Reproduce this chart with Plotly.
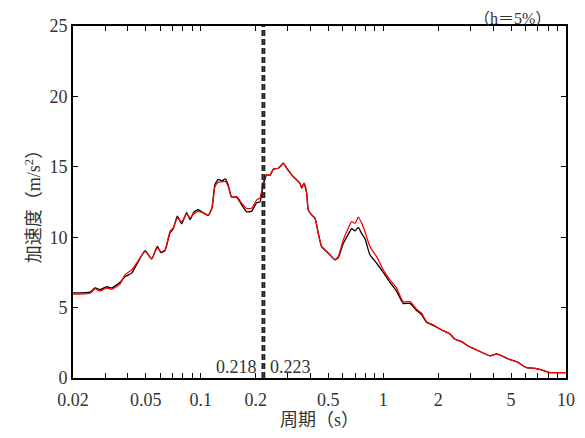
import math
import plotly.graph_objects as go

# Period (s)
period = [0.0200, 0.0248, 0.0264, 0.0281, 0.0306, 0.0326, 0.0362, 0.0385, 0.0419, 0.0446,
          0.0496, 0.0539, 0.0579, 0.0606, 0.0638, 0.0679, 0.0708, 0.0745, 0.0787, 0.0838,
          0.0874, 0.0919, 0.0970, 0.1029, 0.1101, 0.1153, 0.1197, 0.1248, 0.1308, 0.1367,
          0.1416, 0.1478, 0.1574, 0.1677, 0.1786, 0.1902, 0.2026, 0.2112, 0.2202, 0.2298,
          0.2396, 0.2498, 0.2660, 0.2752, 0.2832, 0.2956, 0.3148, 0.3354, 0.3496, 0.3572,
          0.3677, 0.3804, 0.3882, 0.4050, 0.4224, 0.4403, 0.4595, 0.4893, 0.5212, 0.5433,
          0.5664, 0.6034, 0.6426, 0.6708, 0.6992, 0.7290, 0.7610, 0.7932, 0.8446, 0.9192,
          0.9987, 1.087, 1.183, 1.285, 1.399, 1.521, 1.620, 1.726, 1.876, 2.086,
          2.315, 2.466, 2.684, 2.916, 3.105, 3.380, 3.832, 4.170, 4.443, 4.829,
          5.368, 6.085, 6.759, 7.354, 8.163, 8.80, 10.0]

# Red series acceleration (m/s^2)
accel_red = [5.95, 6.02, 6.33, 6.18, 6.38, 6.30, 6.68, 7.32, 7.68, 8.15,
             8.98, 8.49, 9.24, 8.98, 9.10, 10.40, 10.66, 11.35, 11.09, 11.66,
             11.37, 11.66, 11.83, 11.73, 11.55, 12.05, 13.58, 13.91, 13.93, 13.97,
             13.60, 12.83, 12.89, 12.42, 12.05, 12.06, 12.65, 12.77, 13.93, 14.43,
             14.39, 14.83, 14.90, 15.07, 15.26, 14.90, 14.43, 14.07, 13.84, 13.48,
             13.84, 13.13, 11.94, 11.58, 11.35, 10.28, 9.33, 8.98, 8.62, 8.39,
             8.62, 9.81, 10.64, 11.11, 10.98, 11.42, 11.00, 10.40, 9.33, 8.62,
             7.68, 6.97, 6.38, 5.42, 5.42, 4.88, 4.60, 4.00, 3.77, 3.41,
             3.13, 2.75, 2.58, 2.27, 2.10, 1.88, 1.58, 1.71, 1.58, 1.35,
             1.16, 0.73, 0.69, 0.57, 0.38, 0.38, 0.38]

# Black series acceleration (m/s^2)
accel_black = [6.05, 6.10, 6.40, 6.28, 6.48, 6.40, 6.80, 7.20, 7.45, 8.05,
               9.05, 8.45, 9.35, 8.90, 9.05, 10.30, 10.60, 11.50, 10.95, 11.75,
               11.25, 11.80, 11.95, 11.75, 11.55, 12.10, 13.75, 14.10, 14.00, 14.15,
               13.70, 12.85, 12.85, 12.30, 11.80, 11.85, 12.45, 12.50, 13.70, 14.43,
               14.39, 14.83, 14.90, 15.07, 15.26, 14.90, 14.43, 14.07, 13.84, 13.48,
               13.84, 13.13, 11.94, 11.58, 11.35, 10.28, 9.33, 8.98, 8.62, 8.39,
               8.55, 9.55, 10.20, 10.60, 10.45, 10.70, 10.25, 9.90, 8.75, 8.15,
               7.50, 6.80, 6.15, 5.30, 5.30, 4.80, 4.50, 3.95, 3.73, 3.41,
               3.13, 2.75, 2.58, 2.27, 2.10, 1.88, 1.58, 1.71, 1.58, 1.35,
               1.16, 0.73, 0.69, 0.57, 0.38, 0.38, 0.38]

marker_periods = [0.218, 0.223]
marker_labels = ["0.218", "0.223"]

major_ticks = {0.02: "0.02", 0.05: "0.05", 0.1: "0.1", 0.2: "0.2", 0.5: "0.5",
               1: "1", 2: "2", 5: "5", 10: "10"}
tick_vals = []
tick_text = []
for dec in [0.01, 0.1, 1]:
    for m in range(1, 10):
        v = round(m * dec, 4)
        if 0.02 <= v <= 10:
            tick_vals.append(v)
            tick_text.append(major_ticks.get(v, ""))
tick_vals.append(10)
tick_text.append("10")

FONT = "Liberation Serif, Noto Sans CJK SC, serif"
TXT = "#333333"

fig = go.Figure()
fig.add_trace(go.Scatter(x=period, y=accel_black, mode="lines",
                         line=dict(color="black", width=1.3, shape="spline", smoothing=0.5),
                         showlegend=False))
fig.add_trace(go.Scatter(x=period, y=accel_red, mode="lines",
                         line=dict(color="#ff0000", width=1.3, shape="spline", smoothing=0.5),
                         showlegend=False))

for p in marker_periods:
    fig.add_shape(type="line", x0=p, x1=p, y0=0, y1=25, xref="x", yref="y",
                  line=dict(color="#222222", width=2, dash="6px,3px"))

fig.add_annotation(x=math.log10(marker_periods[0]), y=0, xref="x", yref="y",
                   text=marker_labels[0], xanchor="right", yanchor="bottom",
                   xshift=-4, yshift=-1, showarrow=False,
                   font=dict(family=FONT, size=18, color=TXT))
fig.add_annotation(x=math.log10(marker_periods[1]), y=0, xref="x", yref="y",
                   text=marker_labels[1], xanchor="left", yanchor="bottom",
                   xshift=4, yshift=-1, showarrow=False,
                   font=dict(family=FONT, size=18, color=TXT))

fig.add_annotation(x=1, y=1, xref="paper", yref="paper", text="（h＝5%）",
                   xanchor="right", yanchor="bottom", xshift=-14, yshift=-2, borderpad=0,
                   showarrow=False, font=dict(family=FONT, size=16, color=TXT))

# page body has an 8px margin: size the figure so plot area lands at x 73-566, y 26-378
fig.update_layout(
    width=569, height=422,
    margin=dict(l=65, r=11, t=18, b=52),
    plot_bgcolor="white", paper_bgcolor="white",
    font=dict(family=FONT, size=18, color=TXT),
    xaxis=dict(type="log", range=[-1.69897, 1], tickvals=tick_vals, ticktext=tick_text,
               ticks="inside", ticklen=5, tickwidth=1, tickcolor="black",
               ticklabelstandoff=4,
               showline=True, linecolor="black", linewidth=2, mirror="allticks",
               showgrid=False, zeroline=False, automargin=False,
               title=dict(text="周期（s）", standoff=0, font=dict(size=18))),
    yaxis=dict(range=[0, 25], tickvals=[0, 5, 10, 15, 20, 25],
               ticks="inside", ticklen=5, tickwidth=1, tickcolor="black",
               showline=True, linecolor="black", linewidth=2, mirror="allticks",
               showgrid=False, zeroline=False, automargin=False,
               title=dict(text="加速度（m/s<sup>2</sup>）", standoff=4, font=dict(size=18))),
)

fig.write_html("out.html")
